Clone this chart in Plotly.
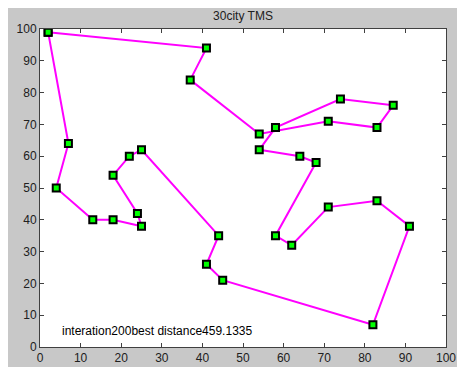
import plotly.graph_objects as go

# Tour order of the 30 cities (closed path back to start)
city_x = [2, 41, 37, 54, 71, 83, 87, 74, 58, 54, 64, 68, 58, 62, 71, 83, 91, 82, 45, 41, 44, 25, 22, 18, 24, 25, 18, 13, 4, 7]
city_y = [99, 94, 84, 67, 71, 69, 76, 78, 69, 62, 60, 58, 35, 32, 44, 46, 38, 7, 21, 26, 35, 62, 60, 54, 42, 38, 40, 40, 50, 64]
x_ticks = [0, 10, 20, 30, 40, 50, 60, 70, 80, 90, 100]
y_ticks = [0, 10, 20, 30, 40, 50, 60, 70, 80, 90, 100]
title_text = "30city TMS"
note_text = "interation200best distance459.1335"

path_x = city_x + [city_x[0]]
path_y = city_y + [city_y[0]]

FONT = "Liberation Sans, Arial"

fig = go.Figure()
fig.add_trace(go.Scatter(
    x=path_x, y=path_y, mode="lines+markers",
    line=dict(color="#ff00ff", width=2),
    marker=dict(symbol="square", size=7, color="#00ff00",
                line=dict(color="#000000", width=2)),
    hoverinfo="skip", showlegend=False,
))

fig.add_annotation(x=5, y=5, xref="x", yref="y", text=note_text,
                   showarrow=False, xanchor="left", yanchor="middle",
                   font=dict(family=FONT, size=12, color="#000000"))

# page has an 8px body margin; figure sized to fill the rest of the window
W, H = 457, 359
ml, mr, mt, mb = 32, 19, 21, 20
pw = W - ml - mr

axis_common = dict(
    showgrid=False, zeroline=False, showline=True, linecolor="#404040", linewidth=1,
    mirror="ticks", ticks="inside", ticklen=4, tickcolor="#404040", automargin=False,
    tickfont=dict(family=FONT, size=12, color="#202020"),
)

fig.update_layout(
    width=W, height=H,
    margin=dict(l=ml, r=mr, t=mt, b=mb, pad=0, autoexpand=False),
    paper_bgcolor="#c8c8c8", plot_bgcolor="#ffffff",
    title=dict(text=title_text, x=(ml + pw / 2) / W, xanchor="center",
               y=1 - 8 / H, yanchor="middle", automargin=False,
               font=dict(family=FONT, size=12, color="#202020")),
    xaxis=dict(range=[0, 100], tickvals=x_ticks, **axis_common),
    yaxis=dict(range=[0, 100], tickvals=y_ticks, **axis_common),
)

fig.write_html("out.html")
